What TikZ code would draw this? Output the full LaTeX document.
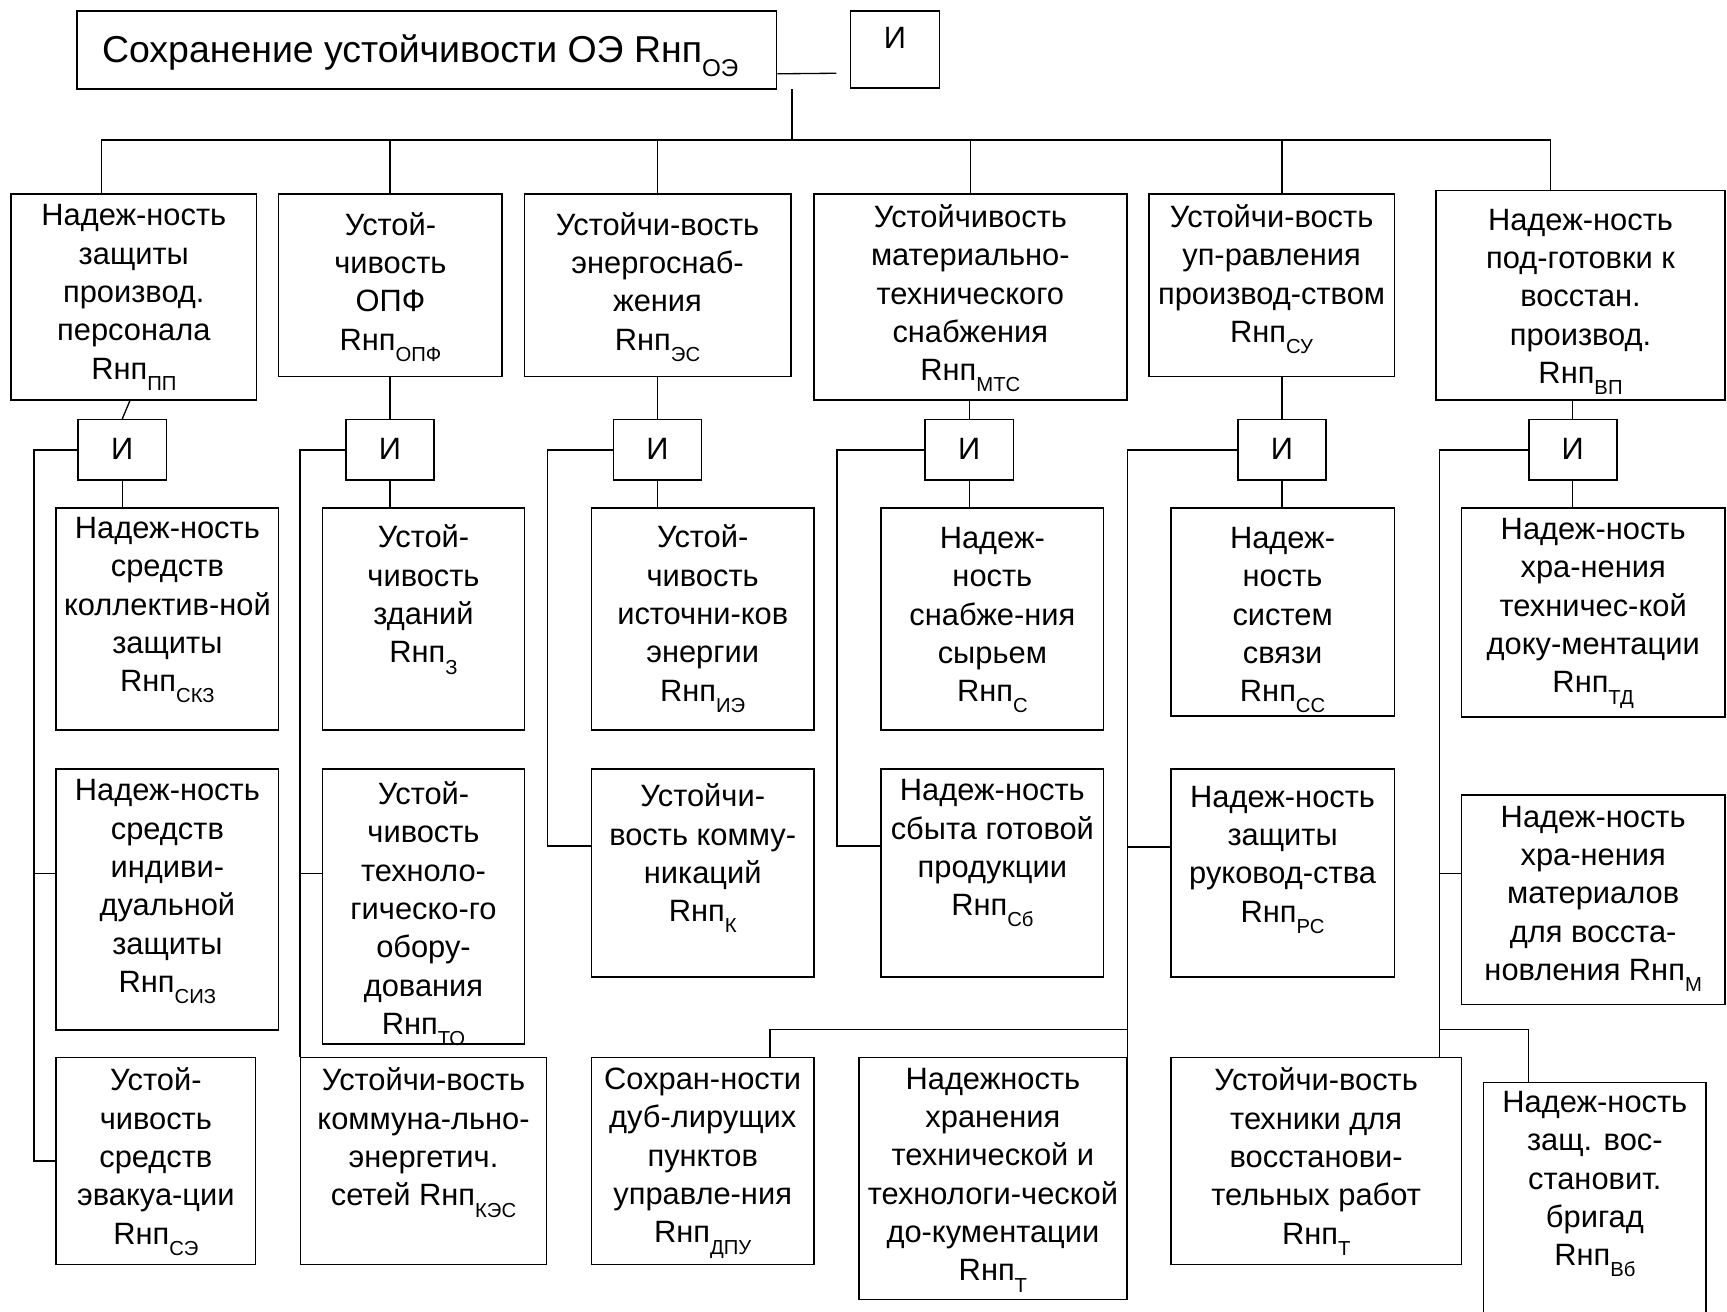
\documentclass[tikz,border=0pt]{standalone}
\usepackage{fontspec}
\setmainfont{Liberation Sans}
\usetikzlibrary{fit}
\newcommand\rnp[2][9.2]{Rнп\raisebox{-0.36em}{\fontsize{#1}{#1}\selectfont #2}}
\tikzset{
  box/.style={draw, line width=0.7pt, inner sep=0pt, rectangle},
  txt/.style={align=center, inner sep=0pt, anchor=north, font=\fontsize{14}{17.4}\selectfont},
  wire/.style={line width=0.6pt},
}
\def\blk(#1)(#2)(#3)[#4]#5{%
  \node[box, fit={(#2) (#3)}] (#1) {};
  \node[txt] (#1t) at ([yshift=#4]#1.north) {#5};}

\begin{document}
\begin{tikzpicture}[x=0.5pt, y=-0.5pt]
  \useasboundingbox (0,0) rectangle (1568,1191);
  \clip (0,0) rectangle (1568,1191);
  %%%%% START %%%%%
  % top
  \node[box, fit={(70,10) (705,81)}] (top) {};
  \node[txt, font=\fontsize{17}{20}\selectfont] (topt) at ([yshift=-11pt, xshift=-3pt]top.north) {Сохранение устойчивости ОЭ \rnp[11]{ОЭ}};
  \blk(andT)(772,10)(853,80)[-7.5pt]{И}

  % first level
  \blk(pp)(10,176)(233,363)[-5pt]{Надеж-ность\\защиты\\производ.\\персонала\\\rnp{ПП}}
  \blk(opf)(253,176)(456,342)[-8.5pt]{Устой-\\чивость\\ОПФ\\\rnp{ОПФ}}
  \blk(es)(476,176)(718,342)[-8.5pt]{Устойчи-вость\\энергоснаб-\\жения\\\rnp{ЭС}}
  \blk(mts)(739,176)(1023,363)[-5pt]{Устойчивость\\материально-\\технического\\снабжения\\\rnp{МТС}}
  \blk(su)(1043,176)(1266,342)[-5pt]{Устойчи-вость\\уп-равления\\производ-ством\\\rnp{СУ}}
  \blk(vp)(1304,173)(1566,363)[-8.5pt]{Надеж-ность\\под-готовки к\\восстан.\\производ.\\\rnp{ВП}}

  % AND gates
  \blk(and1)(71,381)(151,436)[-8.5pt]{И}
  \blk(and2)(314,381)(394,436)[-8.5pt]{И}
  \blk(and3)(557,381)(637,436)[-8.5pt]{И}
  \blk(and4)(840,381)(920,436)[-8.5pt]{И}
  \blk(and5)(1124,381)(1204,436)[-8.5pt]{И}
  \blk(and6)(1388,381)(1468,436)[-8.5pt]{И}

  % second level
  \blk(skz)(51,461)(253,663)[-4.5pt]{Надеж-ность\\средств\\коллектив-ной\\защиты\\\rnp{СКЗ}}
  \blk(z)(293,461)(476,663)[-8pt]{Устой-\\чивость\\зданий\\\rnp{З}}
  \blk(ie)(537,461)(739,663)[-8pt]{Устой-\\чивость\\источни-ков\\энергии\\\rnp{ИЭ}}
  \blk(s)(800,461)(1002,663)[-9pt]{Надеж-\\ность\\снабже-ния\\сырьем\\\rnp{С}}
  \blk(ss)(1063,461)(1266,650)[-9pt]{Надеж-\\ность\\систем\\связи\\\rnp{СС}}
  \blk(td)(1327,461)(1566,651)[-5pt]{Надеж-ность\\хра-нения\\техничес-кой\\доку-ментации\\\rnp{ТД}}

  \blk(siz)(51,698)(253,935)[-5pt]{Надеж-ность\\средств\\индиви-\\дуальной\\защиты\\\rnp{СИЗ}}
  \blk(to)(293,698)(476,948)[-6pt]{Устой-\\чивость\\техноло-\\гическо-го\\обору-\\дования\\\rnp{ТО}}
  \blk(k)(537,698)(739,887)[-7pt]{Устойчи-\\вость комму-\\никаций\\\rnp{К}}
  \blk(sb)(800,698)(1002,887)[-5pt]{Надеж-ность\\сбыта готовой\\продукции\\\rnp{Сб}}
  \blk(rs)(1063,698)(1266,887)[-8pt]{Надеж-ность\\защиты\\руковод-ства\\\rnp{РС}}
  \blk(m)(1327,722)(1566,912)[-5pt]{Надеж-ность\\хра-нения\\материалов\\для восста-\\новления \rnp{М}}

  \blk(se)(51,960)(232,1148)[-5pt]{Устой-\\чивость\\средств\\эвакуа-ции\\\rnp{СЭ}}
  \blk(kes)(273,960)(496,1148)[-5pt]{Устойчи-вость\\коммуна-льно-\\энергетич.\\сетей \rnp{КЭС}}
  \blk(dpu)(537,960)(739,1148)[-5pt]{Сохран-ности\\дуб-лирущих\\пунктов\\управле-ния\\\rnp{ДПУ}}
  \blk(t)(780,960)(1023,1180)[-5pt]{Надежность\\хранения\\технической и\\технологи-ческой\\до-кументации\\\rnp{Т}}
  \blk(tt)(1063,960)(1327,1148)[-5pt]{Устойчи-вость\\техники для\\восстанови-\\тельных работ\\\rnp{Т}}
  \blk(vb)(1347,983)(1549,1240)[-4pt]{Надеж-ность\\защ. вос-\\становит.\\бригад\\\rnp{Вб}}

  % connectors
  \draw[wire] ([yshift=-10.75pt]top.east) -- ([yshift=-10.75pt, xshift=-6pt]andT.west);
  \coordinate (root) at (719,81);
  \coordinate (busL) at (92,127);
  \coordinate (busR) at (1408,127);
  \draw[wire] (root) -- (root |- busL);
  \draw[wire] (busL) -- (busR);
  \foreach \x/\n in {92/pp, 354/opf, 597/es, 881/mts, 1164/su, 1408/vp}
    \draw[wire] (\x,127) -- (\n.north -| \x,0);

  \draw[wire] ([xshift=-1.75pt]pp.south) -- (and1.north);
  \foreach \a/\b in {opf/and2, es/and3, mts/and4, su/and5, vp/and6}
    \draw[wire] (\b.north) -- (\b.north |- \a.south);
  \foreach \a/\b in {and1/skz, and2/z, and3/ie, and4/s, and5/ss, and6/td}
    \draw[wire] (\a.south) -- (\a.south |- \b.north);

  \draw[wire] (and1.west) -| (se.west -| 31,0) -- (se.west);
  \draw[wire] (31,793) -- (siz.west |- 0,793);
  \draw[wire] (and2.west) -| (kes.north west);
  \draw[wire] (273,793) -- (to.west |- 0,793);
  \draw[wire] (and3.west) -| (497,768) -- (k.west |- 0,768);
  \draw[wire] (and4.west) -| (760,768) -- (sb.west |- 0,768);
  \draw[wire] (and5.west) -| (t.north east);
  \draw[wire] (1023,769) -- (rs.west |- 0,769);
  \draw[wire] (1023,935) -| (dpu.north -| 699,0);
  \draw[wire] (and6.west) -| (tt.north -| 1307,0);
  \draw[wire] (1307,793) -- (m.west |- 0,793);
  \draw[wire] (1307,935) -| (vb.north -| 1388,0);
  %%%%% END %%%%%
\end{tikzpicture}
\end{document}
